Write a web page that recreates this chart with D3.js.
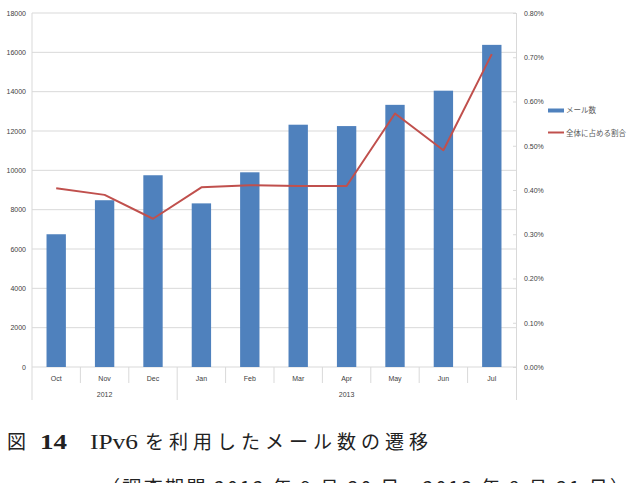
<!DOCTYPE html>
<html><head><meta charset="utf-8">
<script src="https://cdn.jsdelivr.net/npm/d3@7"></script>
<style>
html,body{margin:0;padding:0;background:#fff;}
svg{display:block;}
</style></head>
<body>
<svg id="c" width="637" height="483"></svg>
<script>
const months = ["Oct","Nov","Dec","Jan","Feb","Mar","Apr","May","Jun","Jul"];
const years = [{label:"2012", from:"Oct", to:"Dec"},{label:"2013", from:"Jan", to:"Jul"}];
const mailCounts = [6750, 8480, 9750, 8320, 9900, 12320, 12250, 13330, 14050, 16380];
const shares = [0.00404, 0.00389, 0.00335, 0.00406, 0.00411, 0.00409, 0.00409, 0.00573, 0.00490, 0.00707];
const leftTicks = [0,2000,4000,6000,8000,10000,12000,14000,16000,18000];
const rightTicks = [0,0.001,0.002,0.003,0.004,0.005,0.006,0.007,0.008];
const seriesNames = ["メール数","全体に占める割合"];
const captionTitle = "を利用したメール数の遷移";
const captionSub = "（調査期間 2012 年 9 月 30 日～2013 年 8 月 31 日）";

const svg = d3.select("#c");
const L = 32, R = 516, T = 13, B = 367;
const barColor = "#4F81BD", lineColor = "#C0504D", gridColor = "#d9d9d9", txt = "#404040";
const tickFont = "Liberation Sans, Arial, sans-serif";

const x = d3.scaleBand().domain(months).range([L, R]).paddingInner(0.6).paddingOuter(0.3);
const y = d3.scaleLinear().domain([0, 18000]).range([B, T]);
const y2 = d3.scaleLinear().domain([0, 0.008]).range([B, T]);

// grid
svg.append("g").selectAll("line").data(leftTicks).join("line")
  .attr("x1", L).attr("x2", R).attr("y1", d => y(d)).attr("y2", d => y(d))
  .attr("stroke", gridColor).attr("stroke-width", 1);

// left axis labels
const gl = svg.append("g").attr("transform", `translate(${L},0)`)
  .call(d3.axisLeft(y).tickValues(leftTicks).tickSize(0).tickPadding(6).tickFormat(d3.format("d")));
gl.select(".domain").remove();
gl.selectAll("text").attr("font-family", tickFont).attr("font-size", 7).attr("fill", txt);

// right axis
const gr = svg.append("g").attr("transform", `translate(${R},0)`)
  .call(d3.axisRight(y2).tickValues(rightTicks).tickSizeInner(-3).tickSizeOuter(0).tickPadding(8).tickFormat(d3.format(".2%")));
gr.select(".domain").attr("stroke", gridColor).attr("d", `M0.5,${T}V400`);
gr.selectAll(".tick line").attr("stroke", gridColor);
gr.selectAll("text").attr("font-family", tickFont).attr("font-size", 7).attr("fill", txt);

// category axis lines
const step = x.step();
const bounds = months.map((m, i) => L + i * step);
svg.append("line").attr("x1", L).attr("x2", L).attr("y1", T).attr("y2", 400).attr("stroke", gridColor);
const yearStarts = years.map(yr => yr.from);
svg.append("g").selectAll("line").data(months.slice(1)).join("line")
  .attr("x1", d => x(d) - step * 0.3).attr("x2", d => x(d) - step * 0.3)
  .attr("y1", B).attr("y2", d => yearStarts.includes(d) ? 400 : 383)
  .attr("stroke", gridColor);

svg.append("g").selectAll("text").data(months).join("text")
  .attr("x", d => x(d) + x.bandwidth() / 2).attr("y", 380.5)
  .attr("text-anchor", "middle").attr("font-family", tickFont).attr("font-size", 7).attr("fill", txt)
  .text(d => d);

svg.append("g").selectAll("text").data(years).join("text")
  .attr("x", d => ((x(d.from) - step * 0.3) + (x(d.to) + x.bandwidth() + step * 0.3)) / 2)
  .attr("y", 396.5)
  .attr("text-anchor", "middle").attr("font-family", tickFont).attr("font-size", 7).attr("fill", txt)
  .text(d => d.label);

// bars
svg.append("g").selectAll("rect").data(mailCounts).join("rect")
  .attr("x", (d, i) => x(months[i])).attr("width", x.bandwidth())
  .attr("y", d => y(d)).attr("height", d => B - y(d))
  .attr("fill", barColor);

// line
const line = d3.line().x((d, i) => x(months[i]) + x.bandwidth() / 2).y(d => y2(d));
svg.append("path").datum(shares).attr("d", line)
  .attr("fill", "none").attr("stroke", lineColor).attr("stroke-width", 2).attr("stroke-linejoin", "round");

// legend
const lg = svg.append("g");
lg.append("rect").attr("x", 548).attr("y", 108.5).attr("width", 16).attr("height", 4).attr("fill", barColor);
lg.append("line").attr("x1", 548).attr("x2", 564).attr("y1", 132.5).attr("y2", 132.5).attr("stroke", lineColor).attr("stroke-width", 2);
lg.selectAll("text").data(seriesNames).join("text")
  .attr("x", 566).attr("y", (d, i) => i === 0 ? 113 : 135.5)
  .attr("font-family", "Noto Sans CJK JP, sans-serif").attr("font-size", 7.5).attr("fill", "#595959")
  .text(d => d);

// caption
const serif = "Liberation Serif, DejaVu Serif, serif";
const cjk = "Noto Sans CJK JP, sans-serif";
svg.append("text").attr("x", 7).attr("y", 449).attr("font-family", cjk).attr("font-size", 19).attr("fill", "#222").text("図");
svg.append("text").attr("x", 40).attr("y", 449).attr("font-family", serif).attr("font-weight", "bold").attr("font-size", 20)
  .attr("textLength", 27).attr("lengthAdjust", "spacingAndGlyphs").attr("fill", "#222").text("14");
svg.append("text").attr("x", 90).attr("y", 449).attr("font-family", serif).attr("font-size", 20)
  .attr("textLength", 48).attr("lengthAdjust", "spacingAndGlyphs").attr("fill", "#222").text("IPv6");
svg.append("text").attr("x", 145).attr("y", 449).attr("font-family", cjk).attr("font-size", 19)
  .attr("textLength", 283).attr("lengthAdjust", "spacing").attr("fill", "#222").text(captionTitle);
svg.append("text").attr("x", 101).attr("y", 495).attr("font-family", cjk).attr("font-size", 19)
  .attr("textLength", 528).attr("lengthAdjust", "spacing").attr("fill", "#222").text(captionSub);
</script>
</body></html>
